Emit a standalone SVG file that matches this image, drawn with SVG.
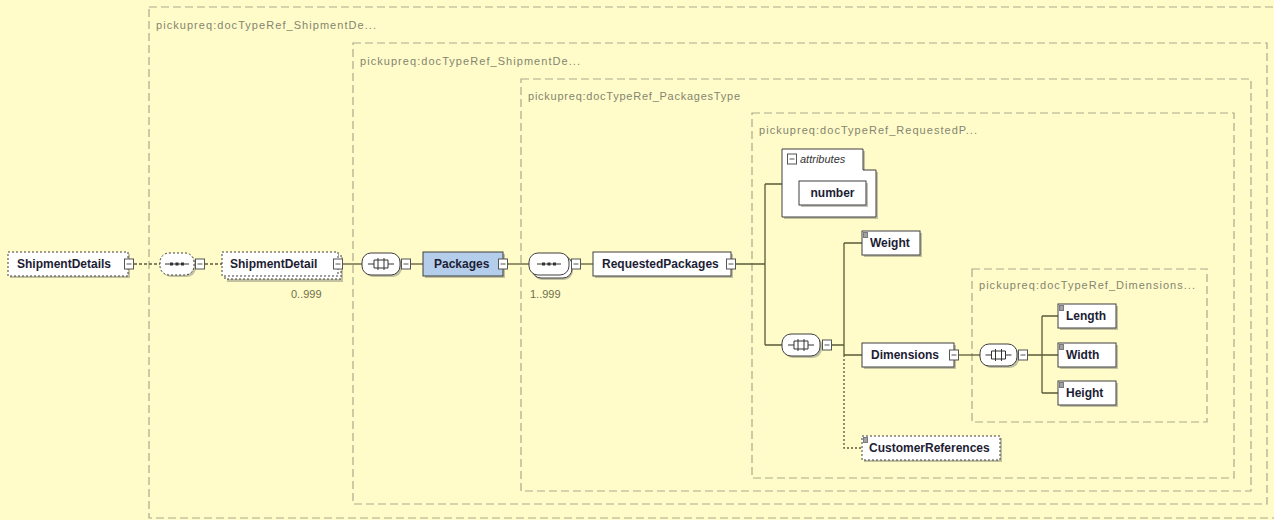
<svg xmlns="http://www.w3.org/2000/svg" xmlns:xlink="http://www.w3.org/1999/xlink" width="1274" height="520" viewBox="0 0 1274 520">
<style>
.bg{fill:#fffcca}
.tbox{fill:none;stroke:#a9a98c;stroke-width:1.2;stroke-dasharray:8,4}
.tlabel{font-family:"Liberation Sans",Arial,sans-serif;font-size:11px;fill:#85856f}
.el{fill:#ffffff;stroke:#3f3f3f;stroke-width:1}
.opt{stroke-dasharray:2,2}
.sel{fill:#b3cdea}
.sh{fill:#8f8f80;opacity:.55}
.name{font-family:"Liberation Sans",Arial,sans-serif;font-size:12px;font-weight:bold;fill:#1d1d35}
.occ{font-family:"Liberation Sans",Arial,sans-serif;font-size:11px;fill:#6f6f4a}
.conn{fill:none;stroke:#5a5a38;stroke-width:1.3}
.dash{stroke-dasharray:3,2}
.dot{stroke-dasharray:2,2}
.comp{fill:#ffffff;stroke:#3f3f3f;stroke-width:1}
.ic{fill:none;stroke:#333;stroke-width:1}
.attr{font-family:"Liberation Sans",Arial,sans-serif;font-size:11px;font-style:italic;fill:#333}
</style>
<defs>
<g id="mbox"><rect x="-4.5" y="-5" width="9" height="10" fill="#fff" stroke="#555" stroke-width="1"/><path d="M-2.5 0H2.5" stroke="#555" stroke-width="1"/></g>
<g id="seqic"><path d="M-12 0H12" stroke="#333" stroke-width="1"/><rect x="-7" y="-1.5" width="3" height="3" fill="#333"/><rect x="-1.5" y="-1.5" width="3" height="3" fill="#333"/><rect x="4" y="-1.5" width="3" height="3" fill="#333"/></g>
<g id="choic"><path d="M-13 0H-7M7 0H13M-7 -4H7M-7 4H7M-3 -6V6M3 -6V6M-7 -4V4M7 -4V4" class="ic"/></g>
<g id="simp"><rect x="0" y="0" width="5" height="6" fill="#7a7a7a"/><path d="M1 2H4M1 4H4" stroke="#ddd" stroke-width="0.8"/></g>
</defs>
<rect class="bg" x="0" y="0" width="1274" height="520"/>

<g id="types">
<rect class="tbox" x="149" y="7" width="1132" height="511"/>
<text class="tlabel" x="156" y="29" textLength="220" lengthAdjust="spacing">pickupreq:docTypeRef_ShipmentDe...</text>
<rect class="tbox" x="353" y="43" width="914" height="461"/>
<text class="tlabel" x="360" y="65" textLength="220" lengthAdjust="spacing">pickupreq:docTypeRef_ShipmentDe...</text>
<rect class="tbox" x="521" y="79" width="730" height="412"/>
<text class="tlabel" x="528" y="100" textLength="212" lengthAdjust="spacing">pickupreq:docTypeRef_PackagesType</text>
<rect class="tbox" x="752" y="113" width="482" height="365"/>
<text class="tlabel" x="759" y="134" textLength="218" lengthAdjust="spacing">pickupreq:docTypeRef_RequestedP...</text>
<rect class="tbox" x="972" y="269" width="235" height="153"/>
<text class="tlabel" x="979" y="289" textLength="216" lengthAdjust="spacing">pickupreq:docTypeRef_Dimensions...</text>
</g>

<g id="connectors">
<path class="conn dash" d="M134 264H160"/>
<path class="conn dash" d="M205 264H222"/>
<path class="conn" d="M343 264H362"/>
<path class="conn" d="M411 264H423"/>
<path class="conn" d="M508 264H529"/>
<path class="conn" d="M581 264H593"/>
<path class="conn" d="M736 264H765M765 184V345M765 184H782M765 345H782"/>
<path class="conn" d="M832 345H844M844 243V355M844 243H862M844 355H862"/>
<path class="conn dot" d="M844 355V448H862"/>
<path class="conn" d="M959 355H980"/>
<path class="conn" d="M1028 355H1042M1042 316V393M1042 316H1058M1042 355H1058M1042 393H1058"/>
</g>

<g id="n_ShipmentDetails">
<rect class="sh" x="10" y="254" width="120" height="24"/>
<rect class="el opt" x="8" y="252" width="120" height="24"/>
<text class="name" x="17" y="268">ShipmentDetails</text>
<use xlink:href="#mbox" x="129" y="264"/>
</g>

<g id="n_seq1">
<rect class="sh" x="162" y="255" width="34" height="22" rx="9"/>
<rect class="comp opt" x="160" y="253" width="34" height="22" rx="9"/>
<use xlink:href="#seqic" x="177" y="264"/>
<use xlink:href="#mbox" x="200" y="264"/>
</g>

<g id="n_ShipmentDetail">
<rect class="sh" x="227" y="257" width="116" height="25"/>
<rect class="el opt" x="225" y="255" width="116" height="24"/>
<rect class="el opt" x="222" y="252" width="116" height="24"/>
<text class="name" x="230" y="268">ShipmentDetail</text>
<use xlink:href="#mbox" x="338" y="264"/>
<text class="occ" x="291" y="298">0..999</text>
</g>

<g id="n_choice1">
<rect class="sh" x="364" y="255" width="38" height="22" rx="9"/>
<rect class="comp" x="362" y="253" width="38" height="22" rx="9"/>
<use xlink:href="#choic" x="381" y="264"/>
<use xlink:href="#mbox" x="406" y="264"/>
</g>

<g id="n_Packages">
<rect class="sh" x="425" y="254" width="80" height="24"/>
<rect class="el sel" x="423" y="252" width="80" height="24"/>
<text class="name" x="434" y="268">Packages</text>
<use xlink:href="#mbox" x="503" y="264"/>
</g>

<g id="n_seq2">
<rect class="sh" x="533" y="257" width="40" height="23" rx="9"/>
<rect class="comp" x="532" y="256" width="40" height="22" rx="9"/>
<rect class="comp" x="529" y="253" width="40" height="22" rx="9"/>
<use xlink:href="#seqic" x="549" y="264"/>
<use xlink:href="#mbox" x="576" y="264"/>
<text class="occ" x="530" y="298">1..999</text>
</g>

<g id="n_RequestedPackages">
<rect class="sh" x="595" y="254" width="138" height="24"/>
<rect class="el" x="593" y="252" width="138" height="24"/>
<text class="name" x="602" y="268">RequestedPackages</text>
<use xlink:href="#mbox" x="731" y="264"/>
</g>

<g id="n_attributes">
<path class="sh" d="M784 151H865V172H878V219H784Z"/>
<path class="el" d="M782 149H863V170H876V217H782Z"/>
<use xlink:href="#mbox" x="792" y="159"/>
<text class="attr" x="800" y="163">attributes</text>
<rect class="sh" x="801" y="183" width="67" height="24"/>
<rect class="el" x="799" y="181" width="67" height="24"/>
<text class="name" x="832.5" y="197" text-anchor="middle">number</text>
</g>

<g id="n_choice2">
<rect class="sh" x="784" y="336" width="38" height="22" rx="9"/>
<rect class="comp" x="782" y="334" width="38" height="22" rx="9"/>
<use xlink:href="#choic" x="801" y="345"/>
<use xlink:href="#mbox" x="827" y="345"/>
</g>

<g id="n_Weight">
<rect class="sh" x="864" y="233" width="58" height="24"/>
<rect class="el" x="862" y="231" width="58" height="24"/>
<use xlink:href="#simp" x="863" y="232"/>
<text class="name" x="870" y="247">Weight</text>
</g>

<g id="n_Dimensions">
<rect class="sh" x="864" y="345" width="92" height="24"/>
<rect class="el" x="862" y="343" width="92" height="24"/>
<text class="name" x="871" y="359">Dimensions</text>
<use xlink:href="#mbox" x="954" y="355"/>
</g>

<g id="n_choice3">
<rect class="sh" x="982" y="346" width="37" height="22" rx="9"/>
<rect class="comp" x="980" y="344" width="37" height="22" rx="9"/>
<use xlink:href="#choic" x="998.5" y="355"/>
<use xlink:href="#mbox" x="1023" y="355"/>
</g>

<g id="n_Length">
<rect class="sh" x="1060" y="306" width="58" height="24"/>
<rect class="el" x="1058" y="304" width="58" height="24"/>
<use xlink:href="#simp" x="1059" y="305"/>
<text class="name" x="1066" y="320">Length</text>
</g>

<g id="n_Width">
<rect class="sh" x="1060" y="345" width="58" height="24"/>
<rect class="el" x="1058" y="343" width="58" height="24"/>
<use xlink:href="#simp" x="1059" y="344"/>
<text class="name" x="1066" y="359">Width</text>
</g>

<g id="n_Height">
<rect class="sh" x="1060" y="383" width="58" height="24"/>
<rect class="el" x="1058" y="381" width="58" height="24"/>
<use xlink:href="#simp" x="1059" y="382"/>
<text class="name" x="1066" y="397">Height</text>
</g>

<g id="n_CustomerReferences">
<rect class="sh" x="864" y="438" width="138" height="24"/>
<rect class="el opt" x="862" y="436" width="138" height="24"/>
<use xlink:href="#simp" x="863" y="437"/>
<text class="name" x="869" y="452">CustomerReferences</text>
</g>
</svg>
